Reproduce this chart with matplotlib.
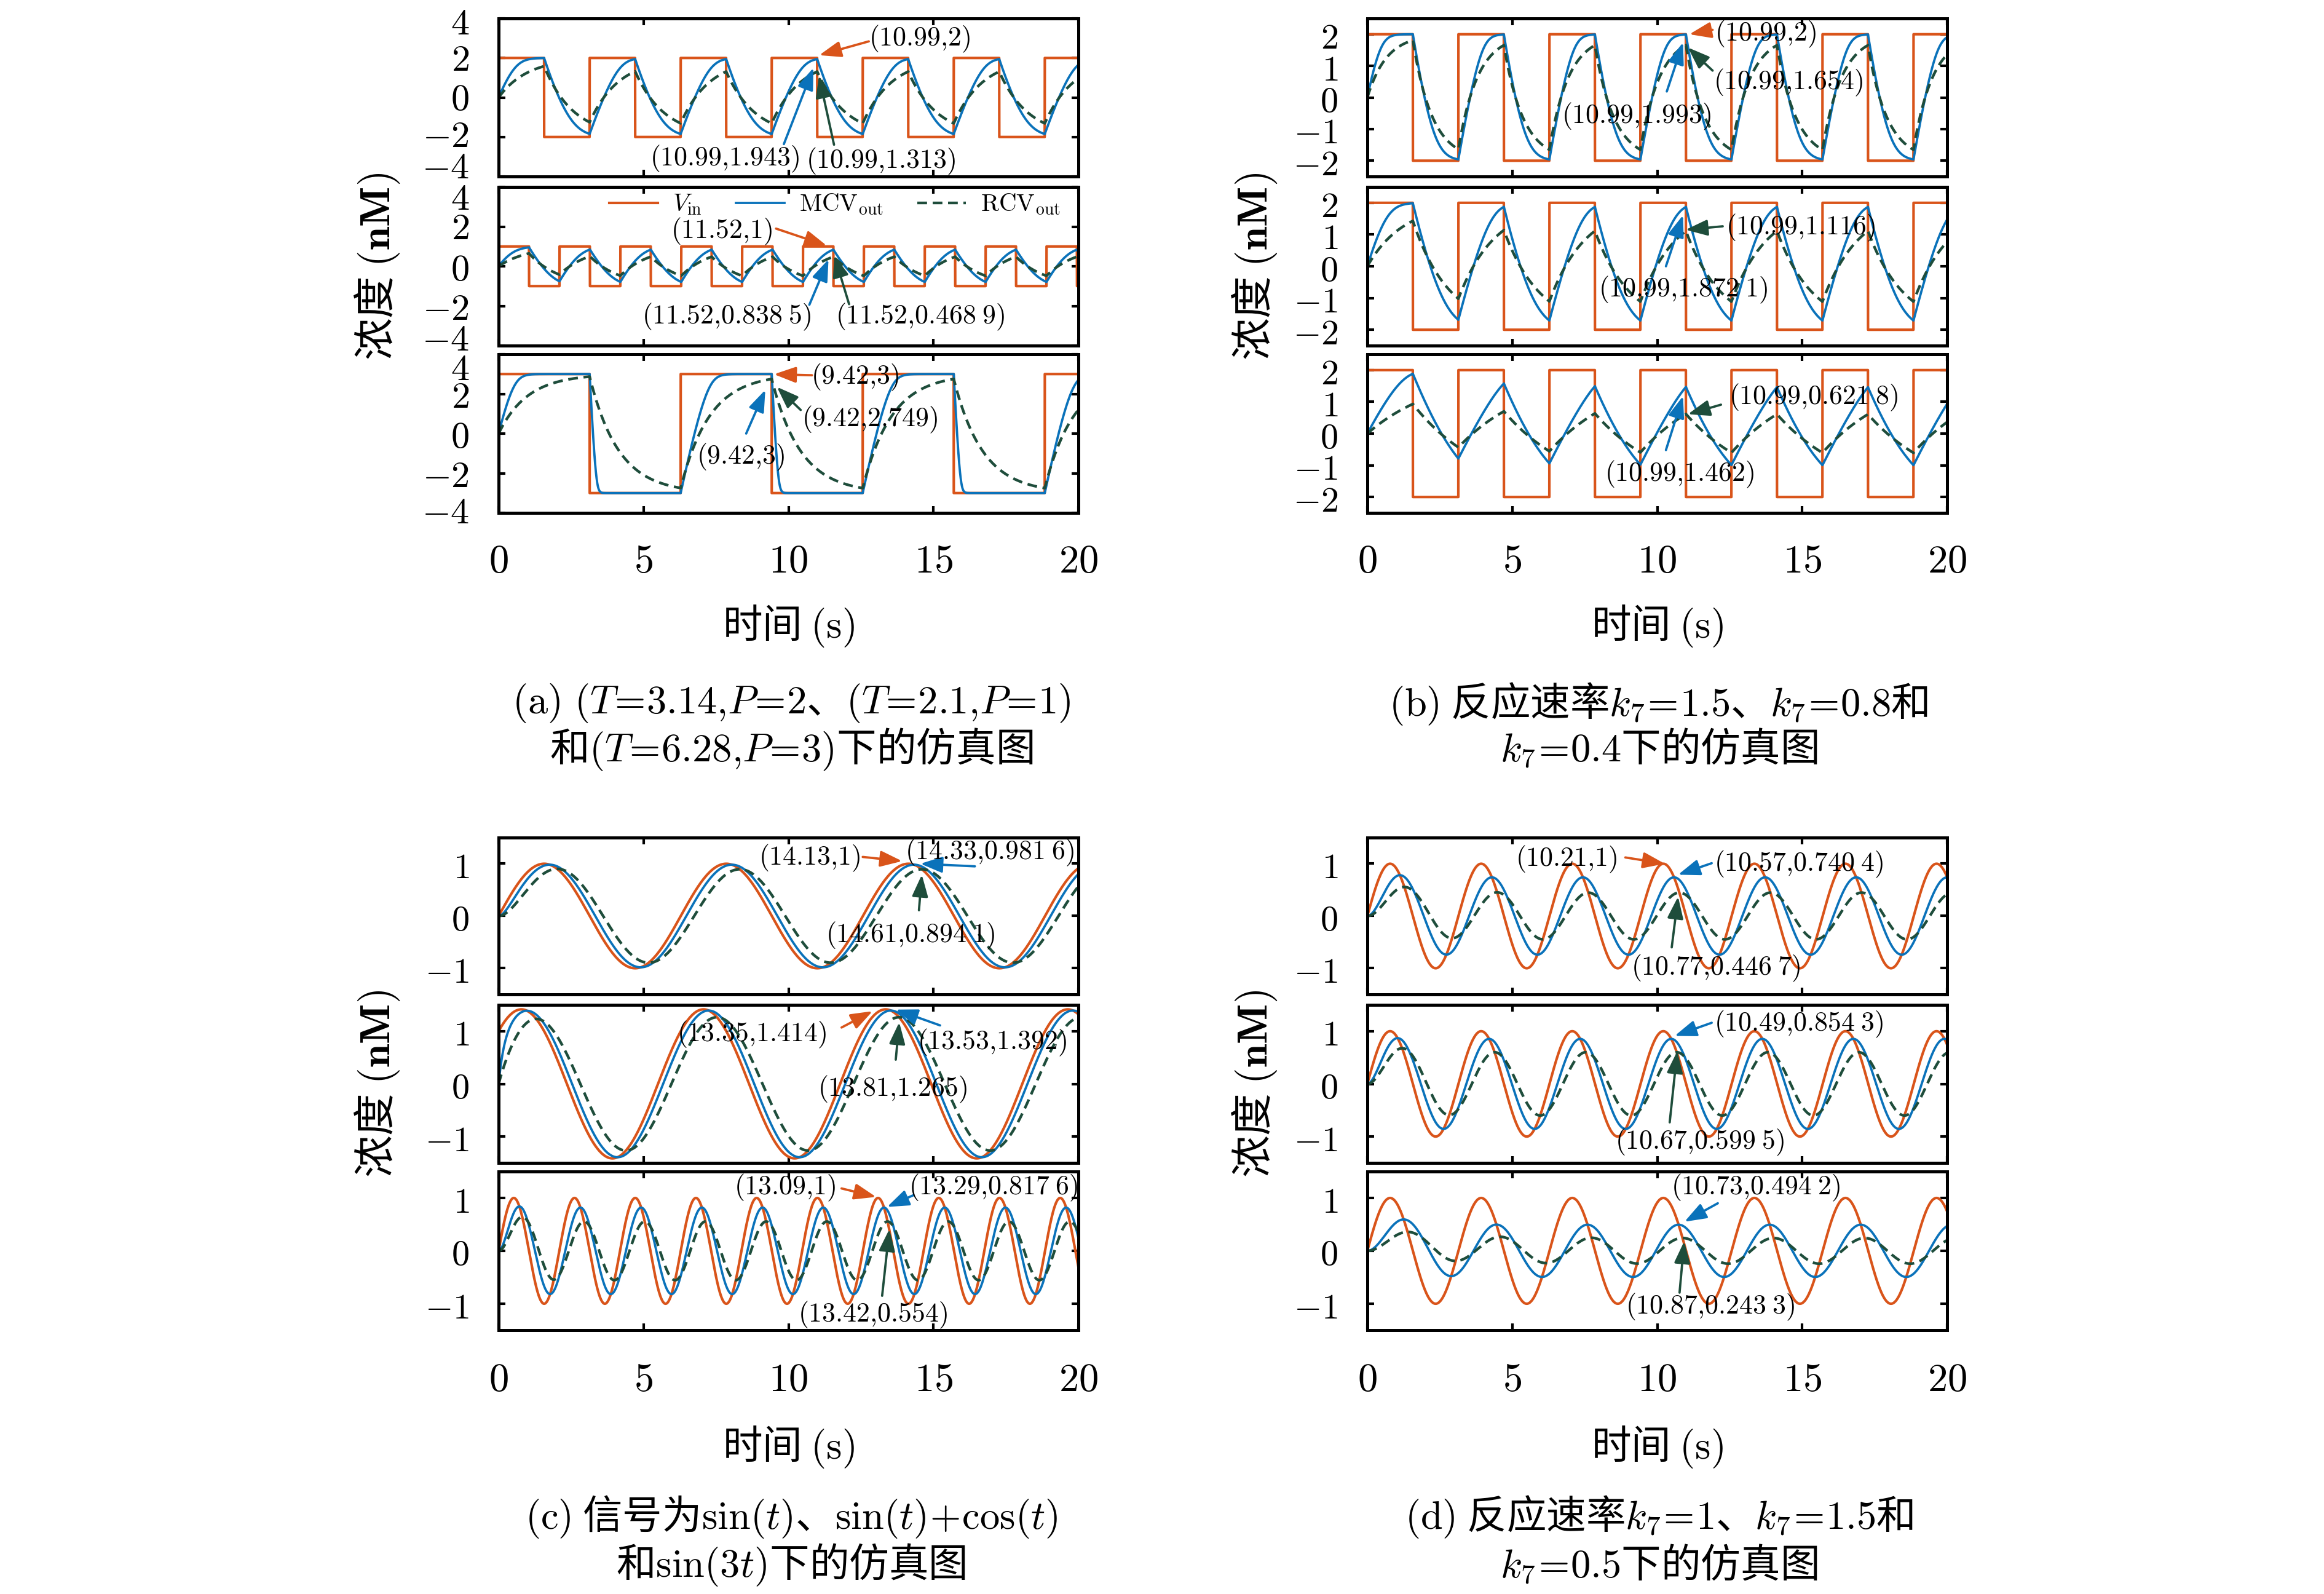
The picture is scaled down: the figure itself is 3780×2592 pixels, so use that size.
import numpy as np
import matplotlib
matplotlib.use("Agg")
import matplotlib.pyplot as plt
from matplotlib.lines import Line2D
from matplotlib.ticker import FuncFormatter
from matplotlib.transforms import ScaledTranslation

plt.rcParams['font.family'] = ['Noto Sans CJK SC', 'DejaVu Sans']
plt.rcParams['mathtext.fontset'] = 'cm'
plt.rcParams['lines.scale_dashes'] = False

inf = np.inf

# ---------------- data ----------------
t_end = 20.0

# (a) square inputs: period T, amplitude P
a_T = [3.14, 2.1, 6.28]
a_P = [2, 1, 3]
# (b) square input T=3.14, P=2, three rates
b_T = [3.14, 3.14, 3.14]
b_P = [2, 2, 2]
# (c) sine inputs sin(t), sin(t)+cos(t), sin(3t): sin coeff, cos coeff, omega
c_sin = [1, 1, 1]
c_cos = [0, 1, 0]
c_w = [1, 1, 3]
# (d) sin(2t) with three rates
d_sin = [1, 1, 1]
d_cos = [0, 0, 0]
d_w = [2, 2, 2]

# RC reference rate constant k7
a_k7 = [1.0, 1.0, 1.0]
b_k7 = [1.5, 0.8, 0.4]
c_k7 = [2.0, 2.0, 2.0]
d_k7 = [1.0, 1.5, 0.5]

# molecular circuit: rise rate, rise saturation, fall rate, fall saturation
a_mcv = [(5.10, 1.0, 3.29, 2.0), (3.84, 1.0, 3.62, 1.0), (6.67, 1.2, 23.3, 1.5)]
b_mcv = [(6.55, 1.0, 4.19, 2.0), (4.42, 1.0, 2.79, 2.0), (4.22, 0.5, 1.31, 3.0)]
c_mcv = [(5.14, inf, 5.14, inf), (5.58, inf, 5.58, inf), (4.26, inf, 4.26, inf)]
d_mcv = [(2.20, inf, 2.20, inf), (3.29, inf, 3.29, inf), (1.137, inf, 1.137, inf)]

# annotated points: label, series, text pos, arrow start, arrow tip
a_ann = [
    [('10.99,2', 'in', 14.52, 2.96, 12.77, 2.84, 11.06, 2.14),
     ('10.99,1.943', 'mcv', 7.80, -3.12, 9.84, -2.36, 10.86, 1.5),
     ('10.99,1.313', 'rcv', 13.19, -3.24, 11.57, -2.39, 11.05, 1.1)],
    [('11.52,1', 'in', 7.69, 1.75, 9.57, 1.9, 11.32, 1.04),
     ('11.52,0.838 5', 'mcv', 7.86, -2.54, 10.72, -1.94, 11.38, 0.35),
     ('11.52,0.468 9', 'rcv', 14.55, -2.54, 12.09, -1.91, 11.58, 0.55)],
    [('9.42,3', 'in', 12.29, 2.83, 10.81, 2.94, 9.5, 2.99),
     ('9.42,3', 'mcv', 8.34, -1.18, 8.54, 0.0, 9.2, 2.2),
     ('9.42,2.749', 'rcv', 12.8, 0.70, 10.42, 1.19, 9.6, 2.35)],
]
b_ann = [
    [('10.99,2', 'in', 13.74, 2.0, 11.91, 2.14, 11.11, 2.0),
     ('10.99,1.993', 'mcv', 9.28, -0.61, 10.33, 0.19, 10.89, 1.74),
     ('10.99,1.654', 'rcv', 14.52, 0.46, 11.91, 0.85, 11.06, 1.58)],
    [('10.99,1.116', 'rcv', 14.94, 1.21, 12.26, 1.26, 10.98, 1.15),
     ('10.99,1.872 1', 'mcv', 10.89, -0.75, 10.3, 0.0, 10.89, 1.61)],
    [('10.99,0.621 8', 'rcv', 15.4, 1.13, 12.2, 0.91, 11.06, 0.61),
     ('10.99,1.462', 'mcv', 10.77, -1.29, 10.3, -0.52, 10.89, 1.18)],
]
c_ann = [
    [('14.13,1', 'in', 10.72, 1.11, 12.56, 1.13, 13.92, 1.05),
     ('14.33,0.981 6', 'mcv', 16.94, 1.21, 16.43, 0.95, 14.55, 1.0),
     ('14.61,0.894 1', 'rcv', 14.21, -0.37, 14.5, 0.11, 14.6, 0.79)],
    [('13.35,1.414', 'in', 8.73, 0.93, 11.83, 1.07, 12.9, 1.38),
     ('13.53,1.392', 'mcv', 17.02, 0.78, 15.23, 1.11, 13.7, 1.41),
     ('13.81,1.265', 'rcv', 13.58, -0.1, 13.7, 0.46, 13.82, 1.17)],
    [('13.09,1', 'in', 9.87, 1.19, 11.83, 1.18, 13.02, 1.02),
     ('13.29,0.817 6', 'mcv', 17.06, 1.19, 14.3, 1.05, 13.4, 0.83),
     ('13.42,0.554', 'rcv', 12.9, -1.21, 13.23, -0.85, 13.48, 0.41)],
]
d_ann = [
    [('10.21,1', 'in', 6.86, 1.08, 8.9, 1.12, 10.26, 1.0),
     ('10.57,0.740 4', 'mcv', 14.89, 0.99, 11.88, 1.01, 10.72, 0.79),
     ('10.77,0.446 7', 'rcv', 12.03, -1.0, 10.5, -0.6, 10.72, 0.37)],
    [('10.49,0.854 3', 'mcv', 14.89, 1.13, 11.88, 1.16, 10.6, 0.91),
     ('10.67,0.599 5', 'rcv', 11.46, -1.11, 10.43, -0.73, 10.69, 0.62)],
    [('10.73,0.494 2', 'mcv', 13.41, 1.19, 12.09, 0.9, 10.94, 0.55),
     ('10.87,0.243 3', 'rcv', 11.83, -1.06, 10.77, -0.79, 10.93, 0.18)],
]

captions = {
    'a': [r'$(\mathrm{a})\ (T\!=\!3.14{,}P\!=\!2$、$(T\!=\!2.1{,}P\!=\!1)$',
          r'和$(T\!=\!6.28{,}P\!=\!3)$下的仿真图'],
    'b': [r'$(\mathrm{b})$ 反应速率$k_7\!=\!1.5$、$k_7\!=\!0.8$和',
          r'$k_7\!=\!0.4$下的仿真图'],
    'c': [r'$(\mathrm{c})$ 信号为$\sin(t)$、$\sin(t)\!+\!\cos(t)$',
          r'和$\sin(3t)$下的仿真图'],
    'd': [r'$(\mathrm{d})$ 反应速率$k_7\!=\!1$、$k_7\!=\!1.5$和',
          r'$k_7\!=\!0.5$下的仿真图'],
}

# ---------------- simulation ----------------
dt = 0.0005
t = np.arange(0, t_end + dt / 2, dt)


def square(T, P):
    return np.where(np.floor(2 * t / T + 1e-9) % 2 == 0, P, -P).astype(float)


def sine(s, c, w):
    return s * np.sin(w * t) + c * np.cos(w * t)


def rc_out(u, k):
    y = np.zeros_like(u)
    f = np.exp(-k * dt)
    uu = u.tolist()
    yv = 0.0
    for i in range(1, len(uu)):
        yv = uu[i - 1] + (yv - uu[i - 1]) * f
        y[i] = yv
    return y


def mc_out(u, k_up, s_up, k_dn, s_dn):
    y = np.zeros_like(u)
    uu = u.tolist()
    yv = 0.0
    for i in range(1, len(uu)):
        d = uu[i - 1] - yv
        if d >= 0:
            yv += dt * k_up * d / (1 + d / s_up)
        else:
            yv += dt * k_dn * d / (1 - d / s_dn)
        y[i] = yv
    return y


# ---------------- layout ----------------
W, H = 3780, 2592
fig = plt.figure(figsize=(W / 300, H / 300), dpi=300)

C_IN = '#d9541a'
C_MCV = '#0a72ba'
C_RCV = '#1e4d3b'
colors = {'in': C_IN, 'mcv': C_MCV, 'rcv': C_RCV}

ax_w = 943
col_x = {'a': 811, 'b': 2224, 'c': 811, 'd': 2224}
rows_top = [(30, 287), (304, 562), (576, 834)]
rows_bot = [(1362, 1617), (1634, 1891), (1905, 2163)]
rows = {'a': rows_top, 'b': rows_top, 'c': rows_bot, 'd': rows_bot}
ylims = {'a': (-4, 4), 'b': (-2.5, 2.5), 'c': (-1.5, 1.5), 'd': (-1.5, 1.5)}
yticks = {'a': [-4, -2, 0, 2, 4], 'b': [-2, -1, 0, 1, 2],
          'c': [-1, 0, 1], 'd': [-1, 0, 1]}
ysize = {'a': 14.5, 'b': 14, 'c': 14, 'd': 14}
# vertical nudges (pt) of the (a) tick labels, bottom to top
a_nudge = [[5, 2, 1.0, 0.8, -0.5], [3.8, 0.4, 0.3, 1, -3.0], [1.7, 0.4, 0.4, 0.4, -4.3]]

fmt = FuncFormatter(lambda v, p: r'$%g$' % v)


def make_inputs(p):
    if p == 'a':
        return [square(T, P) for T, P in zip(a_T, a_P)]
    if p == 'b':
        return [square(T, P) for T, P in zip(b_T, b_P)]
    if p == 'c':
        return [sine(s, c, w) for s, c, w in zip(c_sin, c_cos, c_w)]
    return [sine(s, c, w) for s, c, w in zip(d_sin, d_cos, d_w)]


k7s = {'a': a_k7, 'b': b_k7, 'c': c_k7, 'd': d_k7}
mcvs = {'a': a_mcv, 'b': b_mcv, 'c': c_mcv, 'd': d_mcv}
anns = {'a': a_ann, 'b': b_ann, 'c': c_ann, 'd': d_ann}

step = 4
for p in 'abcd':
    inputs = make_inputs(p)
    for j in range(3):
        y0, y1 = rows[p][j]
        ax = fig.add_axes([col_x[p] / W, 1 - y1 / H, ax_w / W, (y1 - y0) / H])
        u = inputs[j]
        ym = mc_out(u, *mcvs[p][j])
        yr = rc_out(u, k7s[p][j])
        ax.plot(t[::step], u[::step], color=C_IN, lw=1.0)
        ax.plot(t[::step], ym[::step], color=C_MCV, lw=0.9)
        ax.plot(t[::step], yr[::step], color=C_RCV, lw=1.05, ls=(0, (3.8, 2.2)))
        ax.set_xlim(0, 20)
        ax.set_ylim(*ylims[p])
        ax.set_xticks([0, 5, 10, 15, 20])
        ax.set_yticks(yticks[p])
        ax.xaxis.set_major_formatter(fmt)
        ax.yaxis.set_major_formatter(fmt)
        ax.tick_params(direction='in', top=True, right=True, length=2.6,
                       width=1.0, pad=11.5)
        ax.tick_params(axis='y', labelsize=ysize[p])
        ax.tick_params(axis='x', labelsize=15.5,
                       pad=(11 if p in 'ab' else 11.5))
        if j < 2:
            ax.tick_params(axis='x', labelbottom=False)
        for s in ax.spines.values():
            s.set_linewidth(1.2)
        if p == 'a':
            for tick, dy in zip(ax.yaxis.get_major_ticks(), a_nudge[j]):
                lab = tick.label1
                lab.set_transform(lab.get_transform() +
                                  ScaledTranslation(0, dy / 72, fig.dpi_scale_trans))

        for lab, ser, lx, ly, sx, sy, tx, ty in anns[p][j]:
            c = colors[ser]
            ax.annotate('', xy=(tx, ty), xytext=(sx, sy),
                        arrowprops=dict(arrowstyle='-|>,head_length=0.6,head_width=0.22',
                                        color=c, lw=0.9, shrinkA=0, shrinkB=0,
                                        mutation_scale=12))
            txt = lab.replace(',', '{,}').replace(' ', r'\;')
            ax.text(lx, ly, r'$(%s)$' % txt, fontsize=10.5,
                    ha='center', va='center', zorder=6)

        if p == 'a' and j == 1:
            handles = [Line2D([], [], color=C_IN, lw=1.0),
                       Line2D([], [], color=C_MCV, lw=0.9),
                       Line2D([], [], color=C_RCV, lw=1.05, ls=(0, (3.8, 2.2)))]
            labels = [r'$V_{\mathrm{in}}$', r'$\mathrm{MCV}_{\mathrm{out}}$',
                      r'$\mathrm{RCV}_{\mathrm{out}}$']
            ax.legend(handles, labels, loc='center', bbox_to_anchor=(0.58, 0.89),
                      ncol=3, frameon=False, fontsize=9.5, handlelength=2.0,
                      handletextpad=0.6, columnspacing=1.4, borderpad=0.1)

# axis labels and captions
cx = {'a': 1287, 'b': 2698, 'c': 1287, 'd': 2698}
ylab_x = {'a': 613, 'b': 2040, 'c': 613, 'd': 2040}
ylab_y = {'a': 433, 'b': 433, 'c': 1762, 'd': 1762}
xlab_y = {'a': 1017, 'b': 1017, 'c': 2352, 'd': 2352}
cap_y = {'a': (1144, 1218), 'b': (1144, 1218), 'c': (2466, 2545), 'd': (2466, 2545)}

for p in 'abcd':
    fig.text(ylab_x[p] / W, 1 - ylab_y[p] / H, r'浓度 $(\mathbf{nM})$', rotation=90,
             ha='center', va='center', fontsize=16.5)
    fig.text((col_x[p] + ax_w / 2) / W, 1 - xlab_y[p] / H, r'时间 $(\mathrm{s})$',
             ha='center', va='center', fontsize=15.5)
    for line, yy in zip(captions[p], cap_y[p]):
        fig.text(cx[p] / W, 1 - yy / H, line, ha='center', va='center', fontsize=15.5)

fig.savefig('out.png', dpi=300)
